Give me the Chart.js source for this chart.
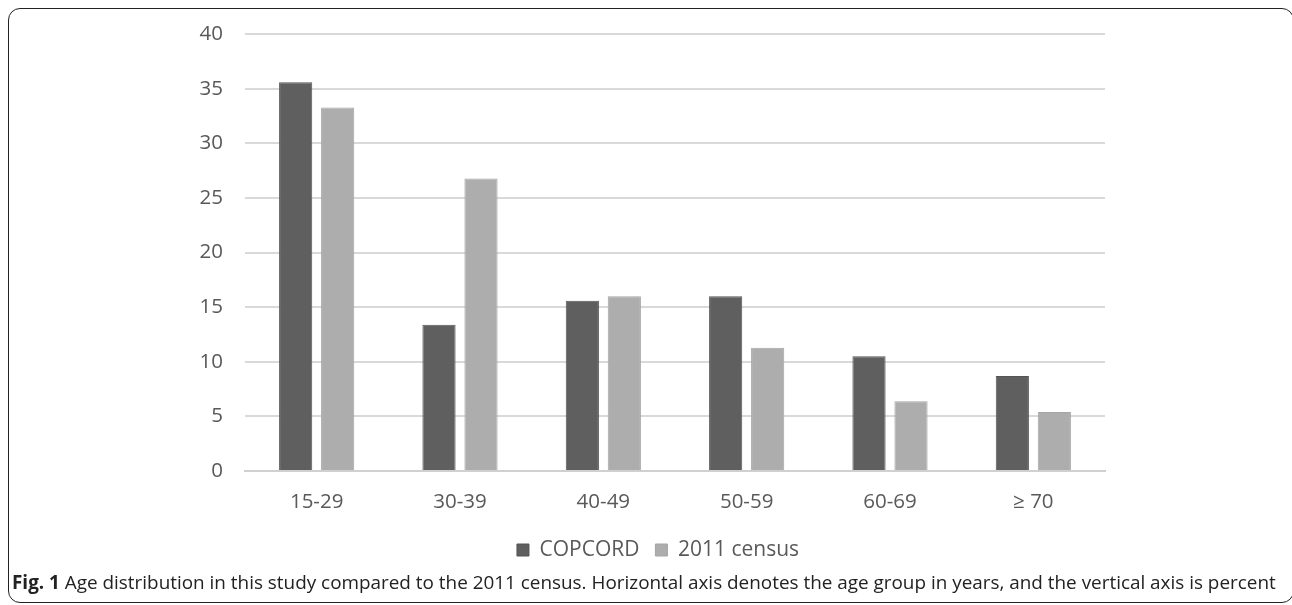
<!DOCTYPE html>
<html>
<head>
<meta charset="utf-8">
<script src="https://cdn.jsdelivr.net/npm/chart.js@4.4.1/dist/chart.umd.min.js"></script>
<style>
  html, body { margin: 0; padding: 0; background: #fff; }
  body { width: 1292px; height: 605px; position: relative; overflow: hidden; }
  .frame {
    position: absolute; left: 8px; top: 8px; width: 1286px; height: 595px;
    border: 1.5px solid #222; border-radius: 12px; box-sizing: border-box;
  }
  #wrap { position: absolute; left: 0; top: 0; width: 1292px; height: 578px; }
  .caption {
    position: absolute; left: 12px; top: 569px; white-space: nowrap;
    font-family: "Open Sans", sans-serif; font-size: 18.9px; color: #222;
  }
  .caption b { font-weight: 700; }
</style>
</head>
<body>
<div class="frame"></div>
<div id="wrap"><canvas id="c"></canvas></div>
<div class="caption"><b>Fig. 1</b> Age distribution in this study compared to the 2011 census. Horizontal axis denotes the age group in years, and the vertical axis is percent</div>
<script>
// Age groups and percentage shares
const ageGroups = ['15-29', '30-39', '40-49', '50-59', '60-69', '\u2265 70'];
const copcord = [35.6, 13.4, 15.6, 16.0, 10.5, 8.7];
const census2011 = [33.3, 26.8, 16.0, 11.3, 6.4, 5.4];
const yTicks = [0, 5, 10, 15, 20, 25, 30, 35, 40];

const textGrey = '#595959';
const tickFont = { family: '"Open Sans", sans-serif', size: 20.5 };
const legendFont = { family: '"Open Sans", sans-serif', size: 21 };

new Chart(document.getElementById('c'), {
  type: 'bar',
  data: {
    labels: ageGroups,
    datasets: [
      { label: 'COPCORD', data: copcord, backgroundColor: '#5f5f5f', borderColor: '#555', borderWidth: 1,
        categoryPercentage: 0.586, barPercentage: 0.79 },
      { label: '2011 census', data: census2011, backgroundColor: '#adadad', borderColor: '#a5a5a5', borderWidth: 1,
        categoryPercentage: 0.586, barPercentage: 0.79 }
    ]
  },
  options: {
    responsive: true,
    maintainAspectRatio: false,
    animation: false,
    layout: { padding: { left: 24, right: 0, top: 33, bottom: 7.5 } },
    plugins: {
      tooltip: { enabled: false },
      legend: {
        position: 'bottom',
        labels: { color: textGrey, font: legendFont, boxWidth: 12, boxHeight: 12, padding: 16 }
      }
    },
    scales: {
      x: {
        grid: { display: false, drawTicks: false },
        border: { display: true, color: '#d0d0d0', width: 2 },
        ticks: { color: textGrey, font: tickFont, padding: 19 },
        afterFit(scale) { scale.height = 52.5; }
      },
      y: {
        min: 0, max: 40,
        afterBuildTicks(scale) { scale.ticks = yTicks.map(v => ({ value: v })); },
        grid: { color: '#d9d9d9', lineWidth: 2, drawTicks: false },
        border: { display: false },
        ticks: { color: textGrey, font: tickFont, padding: 22 },
        afterFit(scale) { scale.width = 221; }
      },
      // empty margin on the right of the plot
      side: {
        type: 'linear', position: 'right',
        grid: { display: false, drawTicks: false },
        border: { display: false },
        ticks: { display: false },
        afterFit(scale) { scale.width = 187; }
      }
    }
  }
});
</script>
</body>
</html>
